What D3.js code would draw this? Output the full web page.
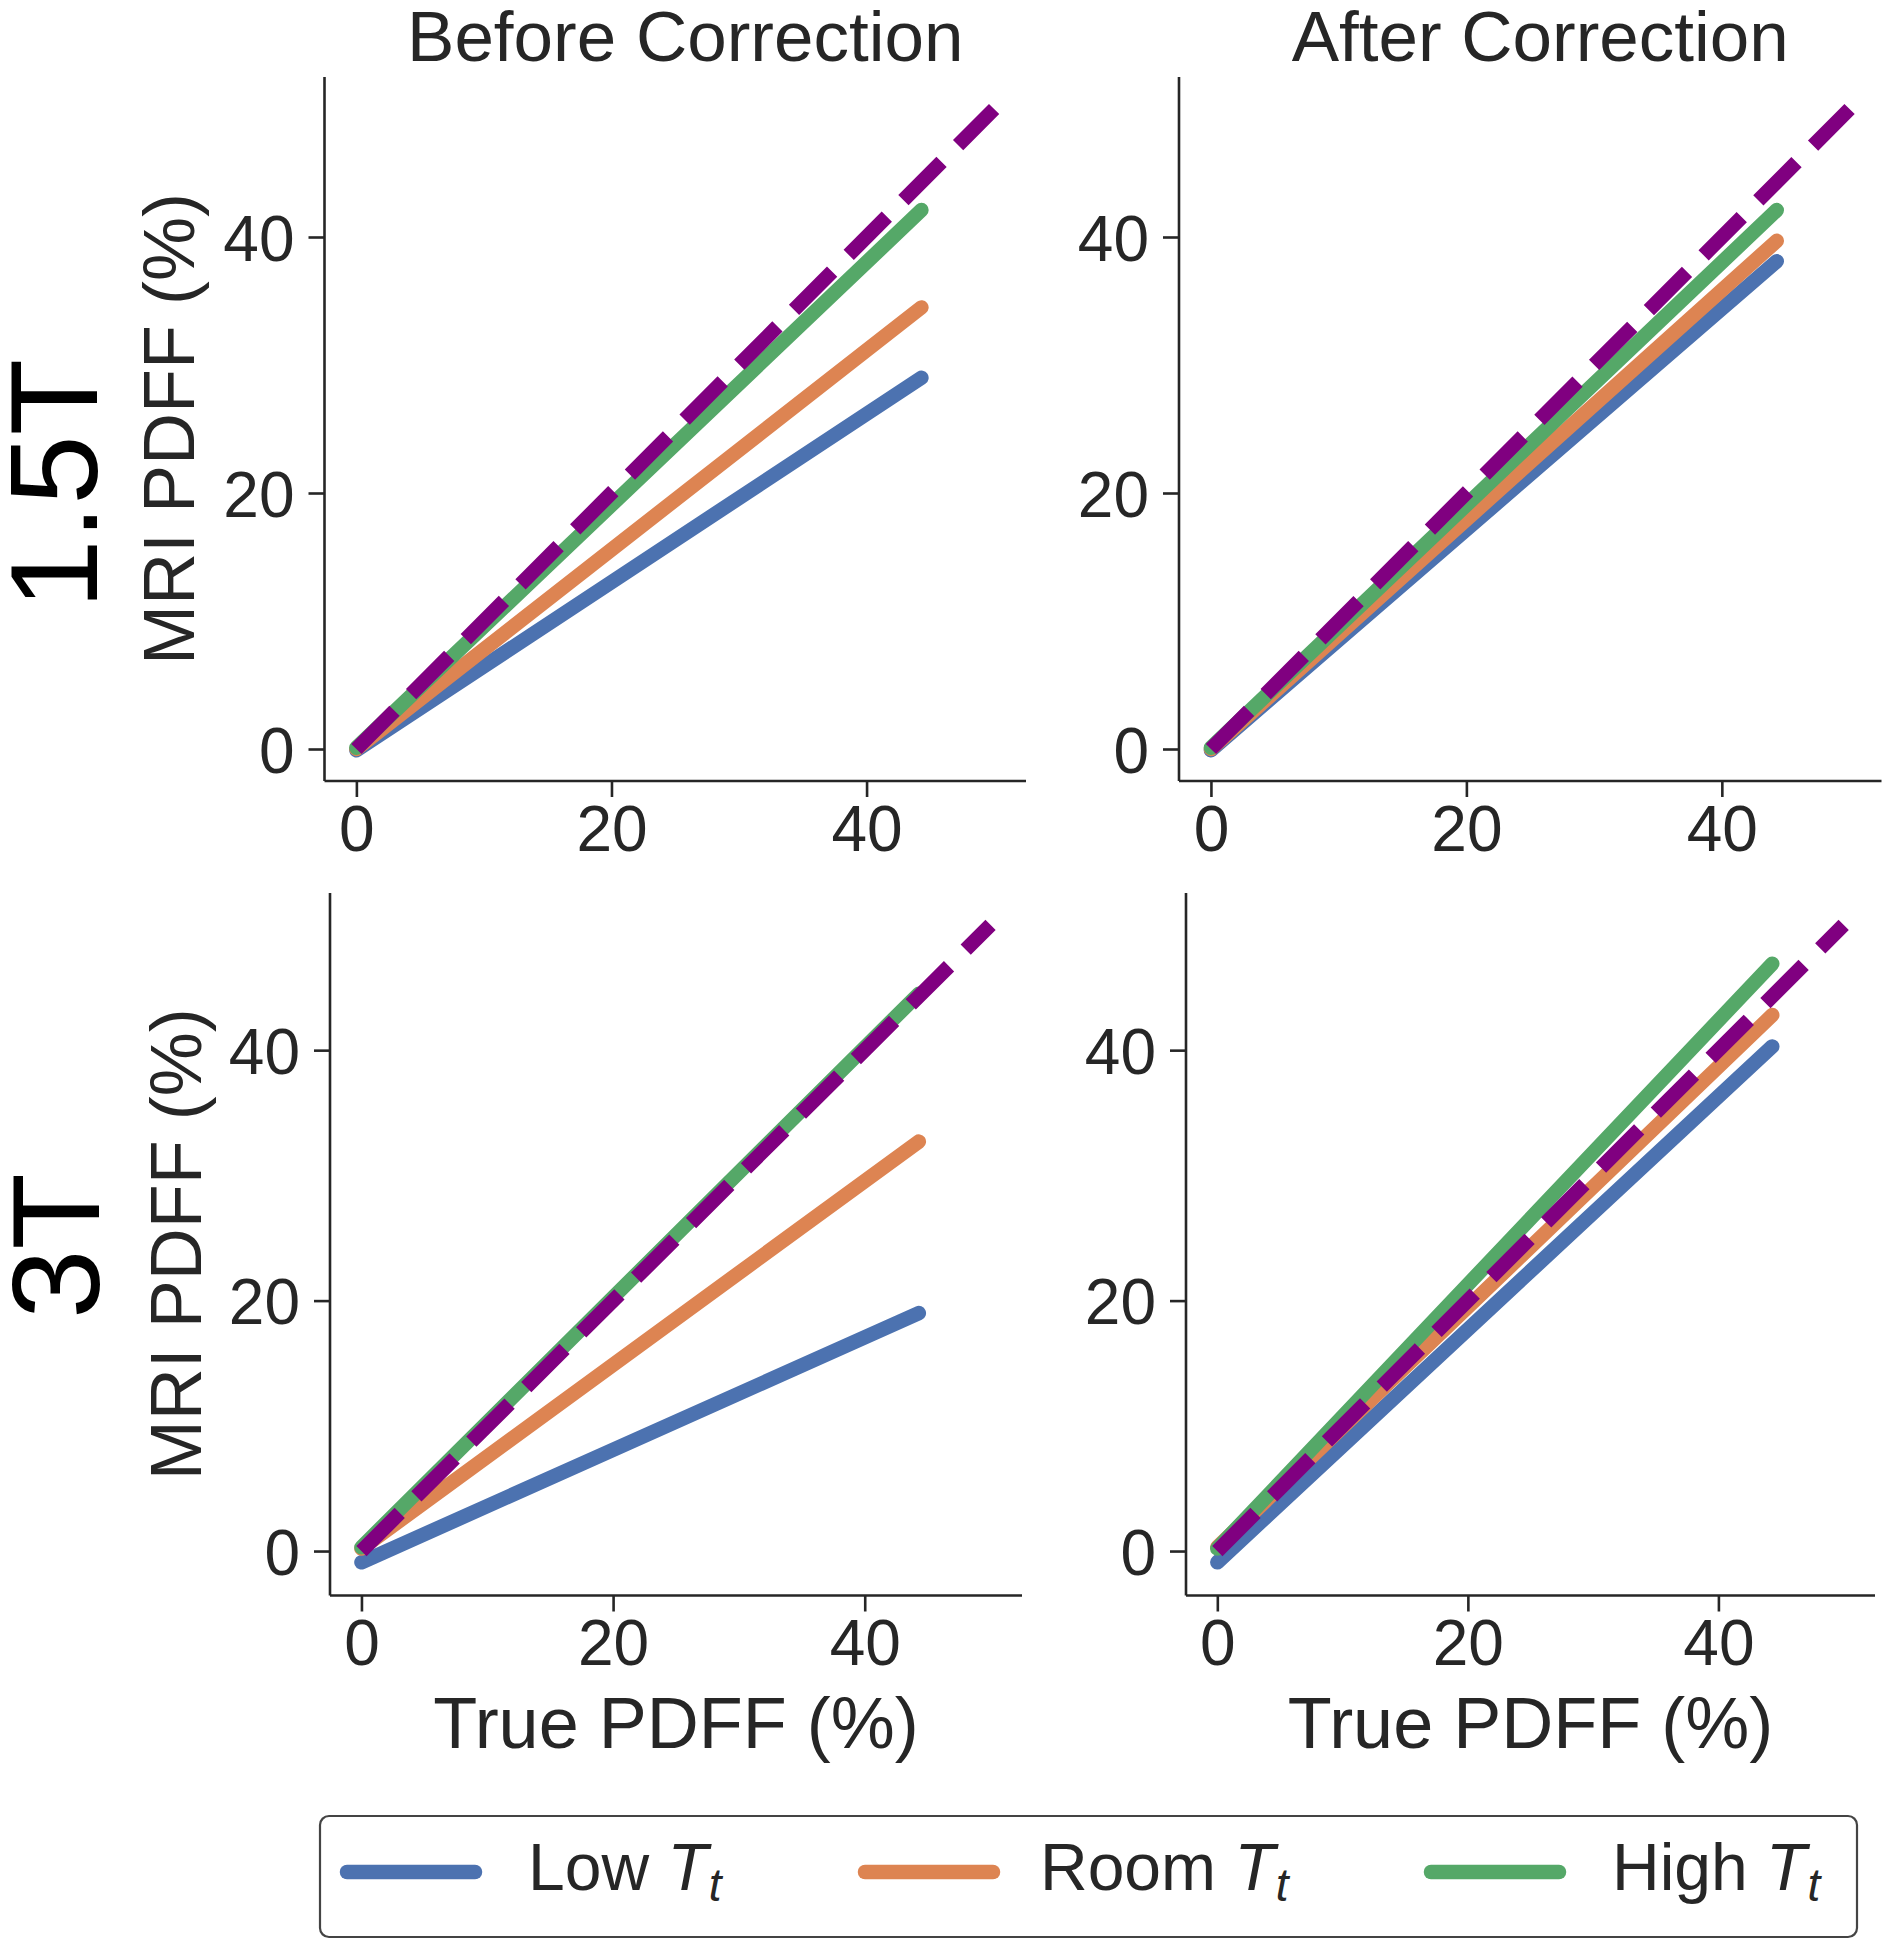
<!DOCTYPE html>
<html>
<head>
<meta charset="utf-8">
<script src="https://cdn.jsdelivr.net/npm/d3@7"></script>
<style>
  html, body { margin: 0; padding: 0; background: #fff; }
  svg { display: block; }
  text { font-family: "Liberation Sans", Arial, Helvetica, sans-serif; }
</style>
</head>
<body>
<svg id="chart" width="1895" height="1950"></svg>
<script>
// ---------------- data ----------------
const columnTitles = ["Before Correction", "After Correction"];
const rowLabels = ["1.5T", "3T"];
const seriesNames = ["Low", "Room", "High"];
const seriesColors = ["#4C72B0", "#DD8452", "#55A868"];
const identityColor = "#800080";

const trueRange = [0, 44.3];      // True PDFF (%) at the ends of each fitted line
const identityRange = [0, 50];    // dashed identity line

// MRI PDFF (%) at the two ends of trueRange
const low15Before  = [-0.1, 29.0];
const room15Before = [0.0, 34.5];
const high15Before = [0.1, 42.1];

const low15After  = [-0.1, 38.1];
const room15After = [0.0, 39.7];
const high15After = [0.1, 42.1];

const low3Before  = [-0.9, 19.0];
const room3Before = [0.2, 32.7];
const high3Before = [0.3, 44.5];

const low3After  = [-0.9, 40.3];
const room3After = [0.3, 42.8];
const high3After = [0.2, 46.9];

const xTicks = [0, 20, 40];
const yTicks = [0, 20, 40];

// ---------------- layout ----------------
const svg = d3.select("#chart");
const ink = "#262626";

const panels = [
  { row: 0, col: 0, left: 324.5, right: 1026, top: 77, bottom: 781, ydom: [-2.5, 52.5],
    series: [low15Before, room15Before, high15Before] },
  { row: 0, col: 1, left: 1179, right: 1881.5, top: 77, bottom: 781, ydom: [-2.5, 52.5],
    series: [low15After, room15After, high15After] },
  { row: 1, col: 0, left: 330, right: 1022, top: 893, bottom: 1595.5, ydom: [-3.55, 52.55],
    series: [low3Before, room3Before, high3Before] },
  { row: 1, col: 1, left: 1186, right: 1875, top: 893, bottom: 1595.5, ydom: [-3.55, 52.55],
    series: [low3After, room3After, high3After] }
];

const lineW = 14.5;
const tickLen = 16;

panels.forEach(p => {
  const x = d3.scaleLinear().domain([-2.5, 52.5]).range([p.left, p.right]);
  const y = d3.scaleLinear().domain(p.ydom).range([p.bottom, p.top]);
  const g = svg.append("g");

  // axes
  const xAxis = d3.axisBottom(x).tickValues(xTicks).tickSize(tickLen).tickPadding(12).tickFormat(d3.format("d"));
  const yAxis = d3.axisLeft(y).tickValues(yTicks).tickSize(tickLen).tickPadding(14).tickFormat(d3.format("d"));

  const gx = g.append("g").attr("transform", `translate(0,${p.bottom})`).call(xAxis);
  const gy = g.append("g").attr("transform", `translate(${p.left},0)`).call(yAxis);
  [gx, gy].forEach(a => {
    a.select(".domain").attr("stroke", ink).attr("stroke-width", 2.6)
      .attr("d", a === gx ? `M${p.left},0H${p.right}` : `M0,${p.bottom}V${p.top}`);
    a.selectAll(".tick line").attr("stroke", ink).attr("stroke-width", 2.6);
    a.selectAll(".tick text").attr("fill", ink).attr("font-size", 64)
      .attr("font-family", '"Liberation Sans", Arial, sans-serif');
  });
  gx.selectAll(".tick text").attr("dy", "0.65em");
  gy.selectAll(".tick text").attr("dy", "0.36em");

  // series lines
  const line = d3.line().x(d => x(d[0])).y(d => y(d[1]));
  p.series.forEach((vals, i) => {
    const pts = trueRange.map((t, k) => [t, vals[k]]);
    g.append("path").datum(pts).attr("d", line)
      .attr("fill", "none").attr("stroke", seriesColors[i])
      .attr("stroke-width", lineW).attr("stroke-linecap", "round");
  });

  // identity dashed line
  const idPts = identityRange.map(v => [v, v]);
  g.append("path").datum(idPts).attr("d", line)
    .attr("fill", "none").attr("stroke", identityColor)
    .attr("stroke-width", lineW).attr("stroke-dasharray", "54,23.5")
    .attr("stroke-linecap", "butt");

  // column titles
  if (p.row === 0) {
    svg.append("text").attr("x", (p.left + p.right) / 2 + 10).attr("y", 61)
      .attr("text-anchor", "middle").attr("font-size", 71).attr("fill", ink)
      .text(columnTitles[p.col]);
  }
  // x labels
  if (p.row === 1) {
    svg.append("text").attr("x", (p.left + p.right) / 2).attr("y", 1748)
      .attr("text-anchor", "middle").attr("font-size", 72).attr("fill", ink)
      .text("True PDFF (%)");
  }
  // y labels
  if (p.col === 0) {
    const bx = p.row === 0 ? 194 : 201;
    const cy = (p.top + p.bottom) / 2;
    svg.append("text").attr("transform", `translate(${bx},${cy}) rotate(-90)`)
      .attr("text-anchor", "middle").attr("font-size", 72).attr("fill", ink)
      .text("MRI PDFF (%)");
  }
});

// row labels
const rowLabelPos = [{ x: 97, y: 484 }, { x: 99, y: 1246 }];
rowLabels.forEach((lab, i) => {
  svg.append("text").attr("transform", `translate(${rowLabelPos[i].x},${rowLabelPos[i].y}) rotate(-90)`)
    .attr("text-anchor", "middle").attr("font-size", 125).attr("fill", "#000")
    .text(lab);
});

// legend
const legend = svg.append("g");
legend.append("rect").attr("x", 320).attr("y", 1816).attr("width", 1537).attr("height", 121)
  .attr("rx", 9).attr("fill", "#fff").attr("stroke", "#444").attr("stroke-width", 2.2);
const legendHandleX = [347, 865, 1431];
const legendTextX = [528, 1040, 1612];
seriesNames.forEach((name, i) => {
  legend.append("line").attr("x1", legendHandleX[i]).attr("x2", legendHandleX[i] + 128)
    .attr("y1", 1872).attr("y2", 1872).attr("stroke", seriesColors[i])
    .attr("stroke-width", lineW).attr("stroke-linecap", "round");
  const t = legend.append("text").attr("x", legendTextX[i]).attr("y", 1890)
    .attr("font-size", 66).attr("fill", ink);
  t.append("tspan").text(name + " ");
  t.append("tspan").attr("font-style", "italic").text("T");
  t.append("tspan").attr("font-style", "italic").attr("font-size", 46).attr("dy", 11).attr("dx", 1).text("t");
});
</script>
</body>
</html>
